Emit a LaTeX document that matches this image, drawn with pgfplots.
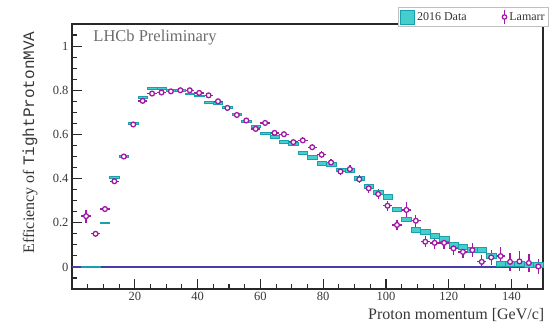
\documentclass[border=0pt]{standalone}
\usepackage{fontspec}
\setmainfont{Liberation Serif}
\setmonofont{Liberation Mono}
\usepackage{pgfplots}
\pgfplotsset{compat=1.18}
\usepackage{pgfplotstable}
\definecolor{datacyan}{RGB}{70,205,205}
\definecolor{dataedge}{RGB}{25,160,170}
\definecolor{lamarrc}{RGB}{160,25,165}
\definecolor{zeroline}{RGB}{70,60,170}
\definecolor{framec}{RGB}{40,40,40}
\definecolor{txt}{RGB}{55,55,55}
\pgfdeclareplotmark{hbox}{%
  \pgfpathrectangle{\pgfpoint{-4.71pt}{-\pgfplotmarksize}}{\pgfpoint{9.42pt}{2\pgfplotmarksize}}%
  \pgfusepathqfillstroke}
\pgfplotstableread{
x y ey
4.5 0.230 0.030
7.5 0.150 0.010
10.5 0.262 0.012
13.5 0.388 0.010
16.5 0.500 0.008
19.5 0.645 0.008
22.5 0.752 0.010
25.5 0.785 0.008
28.5 0.790 0.008
31.5 0.795 0.008
34.5 0.800 0.008
37.5 0.800 0.008
40.5 0.788 0.008
43.5 0.777 0.008
46.5 0.750 0.009
49.5 0.720 0.009
52.5 0.688 0.010
55.5 0.663 0.010
58.5 0.625 0.011
61.5 0.652 0.011
64.5 0.607 0.012
67.5 0.601 0.012
70.5 0.565 0.013
73.5 0.573 0.014
76.5 0.542 0.014
79.5 0.508 0.015
82.5 0.473 0.016
85.5 0.432 0.017
88.5 0.443 0.018
91.5 0.397 0.019
94.5 0.356 0.020
97.5 0.330 0.021
100.5 0.277 0.022
103.5 0.190 0.024
106.5 0.258 0.035
109.5 0.209 0.026
112.5 0.114 0.025
115.5 0.109 0.026
118.5 0.109 0.027
121.5 0.084 0.028
124.5 0.068 0.029
127.5 0.076 0.032
130.5 0.023 0.030
133.5 0.043 0.033
136.5 0.049 0.040
139.5 0.023 0.040
142.5 0.025 0.045
145.5 0.018 0.040
148.5 0.002 0.035
}\lamarrtab
\pgfplotstableread{
x y h
4.5 0 0.8
7.5 0 0.8
10.5 0.200 0.8
13.5 0.405 0.8
16.5 0.500 0.8
19.5 0.650 0.8
22.5 0.767 0.8
25.5 0.810 0.8
28.5 0.810 0.8
31.5 0.800 0.8
34.5 0.800 0.8
37.5 0.785 0.8
40.5 0.775 0.9
43.5 0.745 0.9
46.5 0.740 1.0
49.5 0.725 1.0
52.5 0.690 1.1
55.5 0.660 1.1
58.5 0.636 1.2
61.5 0.605 1.2
64.5 0.590 1.3
67.5 0.568 1.4
70.5 0.560 1.5
73.5 0.518 1.6
76.5 0.497 1.7
79.5 0.470 1.7
82.5 0.465 1.8
85.5 0.440 1.8
88.5 0.436 1.9
91.5 0.400 1.9
94.5 0.367 2.0
97.5 0.340 2.0
100.5 0.318 2.1
103.5 0.260 2.1
106.5 0.215 2.2
109.5 0.167 2.3
112.5 0.159 2.3
115.5 0.140 2.4
118.5 0.129 2.4
121.5 0.099 2.5
124.5 0.091 2.5
127.5 0.079 2.5
130.5 0.076 2.5
133.5 0.049 2.5
136.5 0.015 2.5
139.5 0.015 2.5
142.5 0.015 2.5
145.5 0.012 2.5
148.5 0.010 2.5
}\datatab
\begin{document}
\begin{tikzpicture}
\useasboundingbox (-72pt,-36pt) rectangle (484pt,289pt);
\begin{axis}[
  at={(0pt,0pt)}, anchor=south west,
  scale only axis, width=471pt, height=265pt,
  xmin=0, xmax=150, ymin=-0.1, ymax=1.1,
  axis line style={draw=framec, line width=1.4pt},
  xtick={20,40,60,80,100,120,140},
  ytick={0,0.2,0.4,0.6,0.8,1},
  minor xtick={5,10,15,25,30,35,45,50,55,65,70,75,85,90,95,105,110,115,125,130,135,145},
  minor ytick={-0.05,0.05,0.1,0.15,0.25,0.3,0.35,0.45,0.5,0.55,0.65,0.7,0.75,0.85,0.9,0.95,1.05},
  tick align=inside, tick pos=left,
  major tick length=10pt, minor tick length=5pt,
  every tick/.style={framec, line width=1.1pt},
  tick label style={font=\fontsize{12.5}{14}\selectfont, text=txt},
  /pgf/number format/assume math mode=true,
  xlabel={Proton momentum [GeV/c]},
  ylabel={Efficiency of {\ttfamily TightProtonMVA}},
  every axis x label/.style={at={(axis description cs:1.01,-0.098)}, anchor=east, font=\fontsize{16}{18}\selectfont, text=txt},
  every axis y label/.style={at={(axis description cs:-0.089,0.985)}, rotate=90, anchor=east, font=\fontsize{16}{18}\selectfont, text=txt},
  legend style={at={(axis description cs:1.0127,1.064)}, anchor=north east, draw=gray!50, fill=white, line width=0.6pt, font=\fontsize{12}{13}\selectfont, text=txt, inner sep=2pt, /tikz/every even column/.append style={column sep=33pt}},
  legend columns=2, legend cell align=left,
]
\addplot[zeroline, line width=1.3pt, forget plot] coordinates {(0,0) (150,0)};
\addplot[scatter, only marks, mark=hbox,
  scatter/use mapped color={draw=dataedge, fill=datacyan},
  mark options={line width=0.5pt},
  visualization depends on={\thisrow{h} \as \hh},
  scatter/@pre marker code/.append style={/tikz/mark size=\hh pt},
  legend image code/.code={\draw[fill=datacyan, draw=dataedge, line width=0.8pt] (0pt,-7pt) rectangle (14pt,7pt);}]
  table[x=x, y=y] \datatab;
\addlegendentry{2016 Data}
\addplot[only marks, mark=*, mark size=2.4pt, lamarrc, line width=1.3pt,
  mark options={fill=white, draw=lamarrc, solid, line width=1.3pt},
  legend image code/.code={\draw[lamarrc, line width=1.3pt] (4pt,-7pt) -- (4pt,7pt); \draw[lamarrc, fill=white, line width=1.3pt] (4pt,0pt) circle (2.2pt);},
  error bars/.cd, x dir=both, x fixed=1.5, y dir=both, y explicit, error mark=none,
  error bar style={lamarrc, line width=1.3pt}]
  table[x=x, y=y, y error=ey] \lamarrtab;
\addlegendentry{Lamarr}
\node[anchor=west, font=\fontsize{16.5}{18}\selectfont, text=gray!85!black] at (axis description cs:0.038,0.947) {LHCb Preliminary};
\end{axis}
\end{tikzpicture}
\end{document}
